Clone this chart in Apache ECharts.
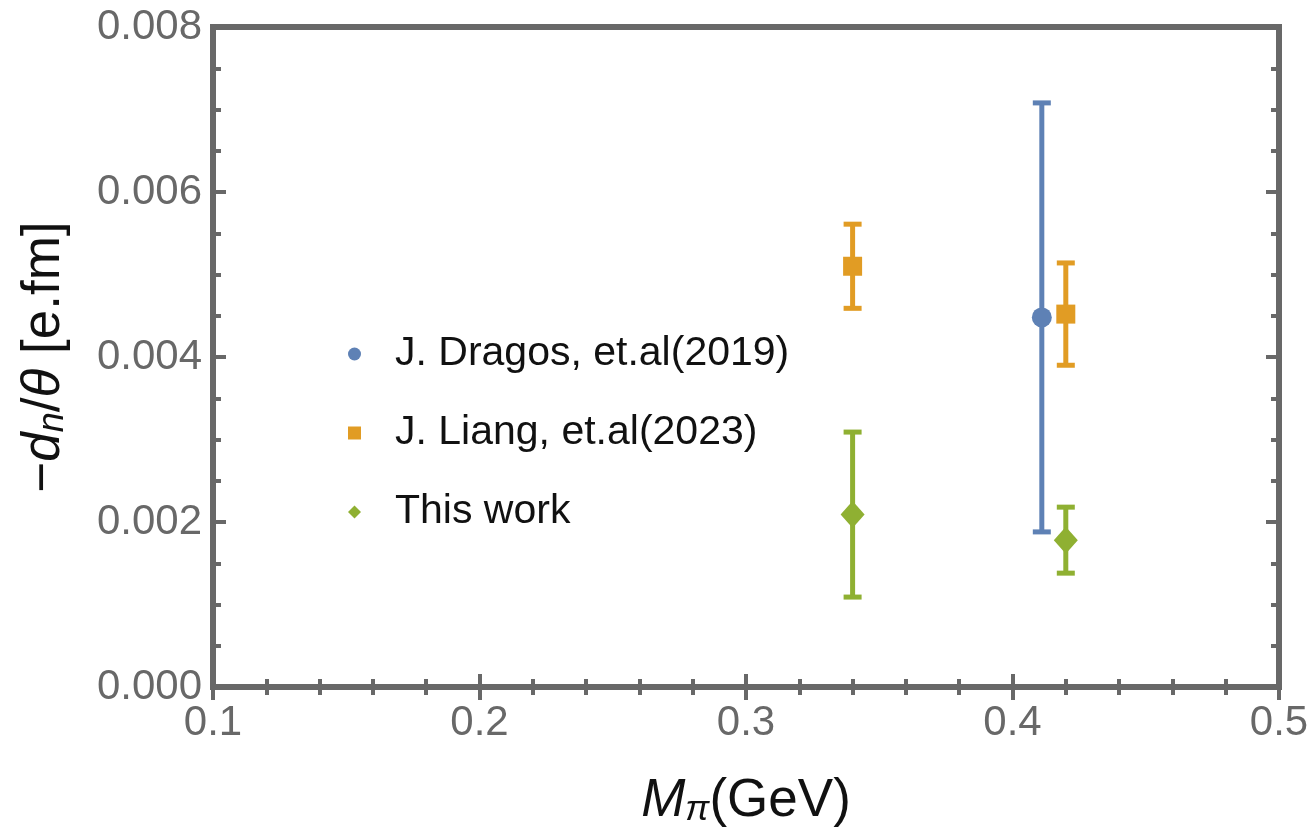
<!DOCTYPE html>
<html>
<head>
<meta charset="utf-8">
<title>Neutron EDM vs pion mass</title>
<script src="https://cdn.jsdelivr.net/npm/echarts@6/dist/echarts.min.js"></script>
<style>
  html, body { margin: 0; padding: 0; background: #ffffff; }
  #chart { width: 1316px; height: 833px; }
</style>
</head>
<body>
<div id="chart"></div>
<script>
// Series labels
const seriesNames = ['J. Dragos, et.al(2019)', 'J. Liang, et.al(2023)', 'This work'];

// J. Dragos et al. (2019)
const dragosMpi = [0.411];
const dragosDn = [0.00448];
const dragosErr = [0.0026];

// J. Liang et al. (2023)
const liangMpi = [0.34, 0.42];
const liangDn = [0.0051, 0.00452];
const liangErr = [0.00051, 0.00062];

// This work
const thisMpi = [0.34, 0.42];
const thisDn = [0.00209, 0.00178];
const thisErr = [0.001, 0.0004];

// Axis ticks
const xTicks = [0.1, 0.2, 0.3, 0.4, 0.5];
const yTicks = [0.000, 0.002, 0.004, 0.006, 0.008];

const colors = ['#5e81b5', '#e19c24', '#8fb032'];
const frameColor = '#686868';
const font = '"Liberation Sans", Arial, Helvetica, sans-serif';

function points(xs, ys) {
  return xs.map((x, i) => [x, ys[i]]);
}
function bars(xs, ys, es) {
  return xs.map((x, i) => [x, ys[i] - es[i], ys[i] + es[i]]);
}

function errorBarRenderer(color) {
  return function (params, api) {
    const x = api.value(0);
    const top = api.coord([x, api.value(2)]);
    const bot = api.coord([x, api.value(1)]);
    const half = 9;
    const style = { stroke: color, lineWidth: 5, lineCap: 'butt' };
    return {
      type: 'group',
      children: [
        { type: 'line', shape: { x1: top[0], y1: top[1], x2: bot[0], y2: bot[1] }, style },
        { type: 'line', shape: { x1: top[0] - half, y1: top[1], x2: top[0] + half, y2: top[1] }, style },
        { type: 'line', shape: { x1: bot[0] - half, y1: bot[1], x2: bot[0] + half, y2: bot[1] }, style }
      ]
    };
  };
}

function errorSeries(xs, ys, es, color) {
  return {
    type: 'custom',
    xAxisIndex: 0,
    yAxisIndex: 0,
    renderItem: errorBarRenderer(color),
    data: bars(xs, ys, es),
    encode: { x: 0, y: [1, 2] },
    z: 2,
    silent: true
  };
}

const tickCommon = {
  axisLine: { show: false },
  splitLine: { show: false },
  axisTick: { show: true, inside: true, length: 13, lineStyle: { color: frameColor, width: 4 } },
  minorTick: { show: true, length: 8, lineStyle: { color: frameColor, width: 4 } }
};

const xBase = {
  type: 'value', min: xTicks[0], max: xTicks[xTicks.length - 1], interval: 0.1,
  ...tickCommon,
  minorTick: { ...tickCommon.minorTick, splitNumber: 5 }
};
const yBase = {
  type: 'value', min: yTicks[0], max: yTicks[yTicks.length - 1], interval: 0.002,
  ...tickCommon,
  minorTick: { ...tickCommon.minorTick, splitNumber: 4 }
};

const titleSize = 53;
const subSize = 36;

const chart = echarts.init(document.getElementById('chart'), null, { renderer: 'canvas' });

chart.setOption({
  backgroundColor: '#ffffff',
  animation: false,
  textStyle: { fontFamily: font },
  grid: {
    left: 213, right: 37, top: 27, bottom: 146,
    show: true, borderWidth: 6, borderColor: frameColor, backgroundColor: 'transparent'
  },
  legend: {
    orient: 'vertical',
    left: 348,
    top: 333,
    padding: 0,
    itemGap: 37,
    itemWidth: 13,
    itemHeight: 13,
    data: seriesNames,
    textStyle: {
      fontFamily: font, fontSize: 41, color: '#111111',
      lineHeight: 42, padding: [0, 0, 0, 29]
    }
  },
  xAxis: [
    {
      ...xBase,
      position: 'bottom',
      axisLabel: {
        show: true, margin: 15, color: frameColor, fontSize: 42, fontFamily: font,
        formatter: v => v.toFixed(1)
      },
      name: '{m|M}{p|π}{g|(GeV)}',
      nameLocation: 'middle',
      nameGap: 88,
      nameTextStyle: {
        color: '#111111',
        rich: {
          m: { fontSize: titleSize, fontStyle: 'italic', fontFamily: font, color: '#111111', lineHeight: titleSize },
          p: { fontSize: subSize, fontStyle: 'italic', fontFamily: font, color: '#111111', lineHeight: 20, verticalAlign: 'bottom' },
          g: { fontSize: titleSize, fontFamily: font, color: '#111111', lineHeight: titleSize }
        }
      }
    },
    { ...xBase, position: 'top', axisLabel: { show: false } }
  ],
  yAxis: [
    {
      ...yBase,
      position: 'left',
      axisLabel: {
        show: true, margin: 11, color: frameColor, fontSize: 42, fontFamily: font,
        formatter: v => v.toFixed(3)
      },
      name: '{g|−}{d|d}{n|n}{g|/}{t|θ}{g| [e.fm]}',
      nameLocation: 'middle',
      nameRotate: 90,
      nameGap: 142,
      nameTextStyle: {
        color: '#111111',
        rich: {
          g: { fontSize: titleSize, fontFamily: font, color: '#111111', lineHeight: titleSize },
          d: { fontSize: titleSize, fontStyle: 'italic', fontFamily: font, color: '#111111', lineHeight: titleSize },
          t: { fontSize: titleSize, fontStyle: 'italic', fontFamily: font, color: '#111111', lineHeight: titleSize },
          n: { fontSize: subSize, fontStyle: 'italic', fontFamily: font, color: '#111111', lineHeight: 20, verticalAlign: 'bottom' }
        }
      }
    },
    { ...yBase, position: 'right', axisLabel: { show: false } }
  ],
  series: [
    errorSeries(dragosMpi, dragosDn, dragosErr, colors[0]),
    errorSeries(liangMpi, liangDn, liangErr, colors[1]),
    errorSeries(thisMpi, thisDn, thisErr, colors[2]),
    {
      name: seriesNames[0], type: 'scatter', xAxisIndex: 0, yAxisIndex: 0,
      symbol: 'circle', symbolSize: 20, itemStyle: { color: colors[0], opacity: 1 },
      data: points(dragosMpi, dragosDn), z: 3
    },
    {
      name: seriesNames[1], type: 'scatter', xAxisIndex: 0, yAxisIndex: 0,
      symbol: 'rect', symbolSize: 19, itemStyle: { color: colors[1], opacity: 1 },
      data: points(liangMpi, liangDn), z: 3
    },
    {
      name: seriesNames[2], type: 'scatter', xAxisIndex: 0, yAxisIndex: 0,
      symbol: 'diamond', symbolSize: [24, 27], itemStyle: { color: colors[2], opacity: 1 },
      data: points(thisMpi, thisDn), z: 3
    }
  ]
});
</script>
</body>
</html>
